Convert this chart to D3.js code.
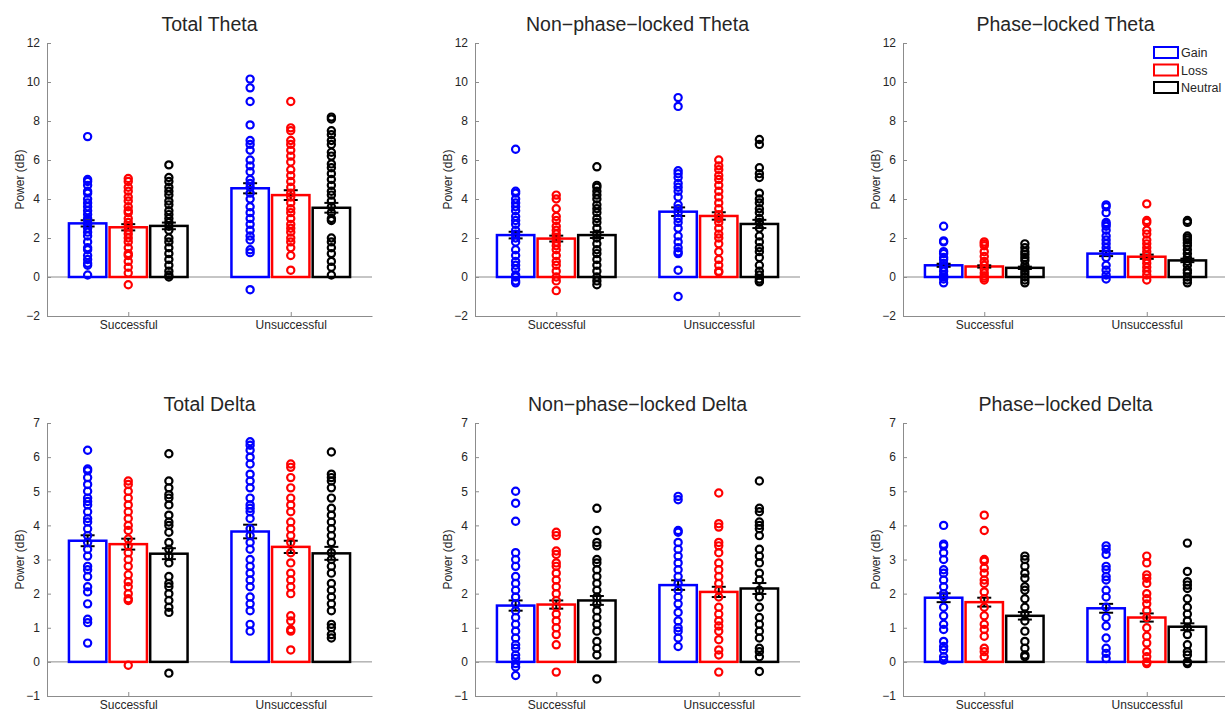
<!DOCTYPE html>
<html>
<head>
<meta charset="utf-8">
<script src="https://cdn.jsdelivr.net/npm/d3@7"></script>
<style>
  html, body { margin: 0; padding: 0; background: #fff; }
  svg { display: block; font-family: "Liberation Sans", Arial, sans-serif; }
</style>
</head>
<body>
<svg id="chart" width="1225" height="712"></svg>
<script>
// ---- categories ----
const groups = ["Successful", "Unsuccessful"];
const conditions = ["Gain", "Loss", "Neutral"];
const conditionColors = ["#0000ff", "#ff0000", "#000000"];

// ---- panel titles and y tick values ----
const panelTitles = [
  "Total Theta", "Non\u2212phase\u2212locked Theta", "Phase\u2212locked Theta",
  "Total Delta", "Non\u2212phase\u2212locked Delta", "Phase\u2212locked Delta"
];
const thetaTicks = [-2, 0, 2, 4, 6, 8, 10, 12];
const deltaTicks = [-1, 0, 1, 2, 3, 4, 5, 6, 7];

// ---- Total Theta ----
const totalThetaMean = [[2.75, 2.55, 2.62], [4.55, 4.2, 3.55]];
const totalThetaSE = [[0.16, 0.16, 0.17], [0.26, 0.25, 0.25]];
const totalThetaSuccessful = [
  [7.2, 5.0, 4.9, 4.7, 4.4, 4.3, 4.0, 3.8, 3.6, 3.4, 3.2, 3.0, 2.9, 2.7, 2.5, 2.3, 2.1, 1.8, 1.5, 1.4, 1.1, 0.9, 0.7, 0.6, 0.1],
  [5.05, 4.9, 4.6, 4.4, 4.1, 3.9, 3.6, 3.4, 3.3, 3.0, 2.8, 2.6, 2.4, 2.2, 2.0, 1.8, 1.5, 1.2, 1.1, 0.8, 0.5, 0.2, -0.4],
  [5.75, 5.1, 4.9, 4.6, 4.4, 4.2, 3.9, 3.7, 3.4, 3.2, 3.0, 2.8, 2.6, 2.4, 2.0, 1.8, 1.5, 1.2, 0.9, 0.6, 0.3, 0.1, 0.0]
];
const totalThetaUnsuccessful = [
  [10.15, 9.7, 9.0, 7.8, 7.0, 6.8, 6.5, 6.0, 5.7, 5.4, 5.0, 4.8, 4.6, 4.3, 4.0, 3.6, 3.3, 3.0, 2.7, 2.4, 2.1, 1.9, 1.4, 1.25, -0.65],
  [9.0, 7.65, 7.5, 7.0, 6.8, 6.5, 6.2, 5.9, 5.5, 5.2, 4.9, 4.6, 4.3, 4.1, 3.8, 3.5, 3.3, 3.0, 2.7, 2.5, 2.3, 2.0, 1.8, 1.5, 1.1, 0.35],
  [8.2, 8.1, 7.5, 7.3, 7.0, 6.8, 6.4, 6.2, 5.8, 5.6, 5.3, 5.0, 4.7, 4.4, 4.2, 3.9, 3.6, 3.3, 3.0, 2.9, 2.0, 1.8, 1.5, 1.2, 0.8, 0.5, 0.1]
];

// ---- Non-phase-locked Theta ----
const npThetaMean = [[2.15, 1.97, 2.15], [3.35, 3.13, 2.72]];
const npThetaSE = [[0.17, 0.15, 0.15], [0.22, 0.19, 0.21]];
const npThetaSuccessful = [
  [6.55, 4.4, 4.3, 4.0, 3.8, 3.6, 3.4, 3.1, 2.9, 2.7, 2.4, 2.2, 2.0, 1.8, 1.4, 1.1, 0.8, 0.6, 0.4, 0.1, 0.0, -0.2, -0.3],
  [4.2, 4.0, 3.5, 3.1, 2.9, 2.6, 2.4, 2.2, 2.0, 1.8, 1.6, 1.4, 1.1, 0.8, 0.6, 0.3, 0.0, -0.2, -0.7],
  [5.65, 4.7, 4.6, 4.4, 4.2, 4.0, 3.7, 3.5, 3.3, 3.0, 2.8, 2.5, 2.2, 2.0, 1.7, 1.4, 1.2, 0.9, 0.6, 0.3, 0.0, -0.2, -0.4]
];
const npThetaUnsuccessful = [
  [9.2, 8.75, 5.45, 5.3, 5.1, 4.8, 4.6, 4.4, 4.1, 3.7, 3.5, 3.3, 3.0, 2.8, 2.5, 2.1, 1.8, 1.5, 1.3, 1.2, 0.35, -1.0],
  [6.0, 5.7, 5.5, 5.2, 5.0, 4.7, 4.4, 4.1, 3.8, 3.5, 3.2, 3.0, 2.8, 2.5, 2.2, 2.0, 1.7, 1.3, 0.9, 0.6, 0.3, 0.25],
  [7.05, 6.8, 5.6, 5.3, 5.1, 4.3, 4.0, 3.8, 3.5, 3.3, 3.0, 2.8, 2.5, 2.1, 1.8, 1.5, 1.3, 1.0, 0.6, 0.3, 0.1, -0.1, -0.2, -0.25]
];

// ---- Phase-locked Theta ----
const plThetaMean = [[0.6, 0.54, 0.47], [1.2, 1.04, 0.85]];
const plThetaSE = [[0.08, 0.06, 0.06], [0.13, 0.11, 0.09]];
const plThetaSuccessful = [
  [2.6, 1.85, 1.8, 1.3, 1.2, 1.0, 0.9, 0.7, 0.5, 0.3, 0.1, 0.0, -0.1, -0.3],
  [1.8, 1.7, 1.6, 1.3, 1.05, 0.8, 0.6, 0.4, 0.2, 0.05, -0.05, -0.15],
  [1.7, 1.5, 1.3, 1.15, 1.0, 0.85, 0.6, 0.45, 0.3, 0.15, 0.0, -0.15, -0.3]
];
const plThetaUnsuccessful = [
  [3.7, 3.6, 3.3, 2.8, 2.7, 2.6, 2.4, 2.1, 1.9, 1.7, 1.5, 1.3, 1.0, 0.6, 0.35, 0.1, -0.1],
  [3.75, 2.9, 2.8, 2.4, 2.2, 1.9, 1.7, 1.5, 1.3, 1.1, 0.9, 0.7, 0.5, 0.3, 0.1, -0.15],
  [2.9, 2.8, 2.1, 2.0, 1.9, 1.75, 1.6, 1.4, 1.2, 1.0, 0.8, 0.6, 0.35, 0.2, 0.0, -0.15, -0.3]
];

// ---- Total Delta ----
const totalDeltaMean = [[3.55, 3.45, 3.17], [3.82, 3.37, 3.18]];
const totalDeltaSE = [[0.16, 0.16, 0.16], [0.2, 0.18, 0.19]];
const totalDeltaSuccessful = [
  [6.2, 5.65, 5.6, 5.4, 5.2, 5.0, 4.8, 4.7, 4.6, 4.4, 4.2, 4.1, 3.9, 3.7, 3.5, 3.3, 3.1, 2.8, 2.7, 2.5, 2.2, 2.05, 1.7, 1.25, 1.15, 0.55],
  [5.3, 5.2, 5.0, 4.8, 4.6, 4.4, 4.2, 4.0, 3.85, 3.6, 3.4, 3.2, 3.0, 2.8, 2.55, 2.35, 2.2, 2.0, 1.85, 1.8, -0.1],
  [6.1, 5.3, 5.1, 4.9, 4.8, 4.6, 4.3, 4.1, 4.0, 3.8, 3.5, 3.3, 3.1, 2.9, 2.5, 2.3, 2.2, 2.0, 1.8, 1.6, 1.45, -0.33]
];
const totalDeltaUnsuccessful = [
  [6.45, 6.35, 6.2, 6.0, 5.8, 5.5, 5.3, 5.1, 4.8, 4.6, 4.5, 4.4, 4.2, 3.9, 3.7, 3.5, 3.3, 3.0, 2.8, 2.6, 2.4, 2.2, 1.9, 1.7, 1.5, 1.1, 0.9],
  [5.8, 5.7, 5.4, 5.1, 4.8, 4.6, 4.4, 4.1, 3.9, 3.7, 3.5, 3.2, 2.9, 2.6, 2.4, 2.2, 2.0, 1.35, 1.2, 0.95, 0.9, 0.35],
  [6.15, 5.5, 5.4, 5.3, 5.1, 4.8, 4.5, 4.3, 4.1, 3.9, 3.7, 3.5, 3.2, 3.0, 2.8, 2.6, 2.3, 2.1, 1.9, 1.7, 1.5, 1.1, 1.0, 0.8, 0.7]
];

// ---- Non-phase-locked Delta ----
const npDeltaMean = [[1.65, 1.68, 1.8], [2.25, 2.05, 2.15]];
const npDeltaSE = [[0.15, 0.12, 0.13], [0.14, 0.15, 0.16]];
const npDeltaSuccessful = [
  [5.0, 4.65, 4.12, 3.2, 3.0, 2.8, 2.5, 2.3, 2.1, 1.9, 1.7, 1.5, 1.3, 1.1, 0.9, 0.7, 0.5, 0.4, 0.2, 0.1, -0.05, -0.15, -0.4],
  [3.8, 3.7, 3.25, 3.15, 2.9, 2.8, 2.6, 2.4, 2.2, 2.0, 1.8, 1.6, 1.4, 1.2, 1.0, 0.8, 0.5, -0.3],
  [4.5, 3.85, 3.5, 3.4, 3.0, 2.9, 2.7, 2.5, 2.3, 2.1, 1.9, 1.7, 1.5, 1.3, 1.1, 0.9, 0.6, 0.4, 0.2, -0.5]
];
const npDeltaUnsuccessful = [
  [4.85, 4.75, 3.85, 3.8, 3.5, 3.3, 3.1, 2.9, 2.7, 2.5, 2.3, 2.1, 1.9, 1.7, 1.45, 1.2, 1.0, 0.9, 0.7, 0.45],
  [4.95, 4.05, 3.95, 3.5, 3.4, 3.2, 2.9, 2.7, 2.5, 2.3, 2.1, 1.9, 1.6, 1.4, 1.2, 1.05, 0.9, 0.65, 0.35, 0.2, -0.3],
  [5.3, 4.5, 4.4, 4.1, 4.0, 3.9, 3.7, 3.3, 3.1, 2.9, 2.6, 2.4, 2.1, 1.9, 1.6, 1.3, 1.1, 0.9, 0.7, 0.4, 0.3, 0.15, -0.28]
];

// ---- Phase-locked Delta ----
const plDeltaMean = [[1.88, 1.75, 1.35], [1.57, 1.3, 1.03]];
const plDeltaSE = [[0.13, 0.13, 0.11], [0.13, 0.12, 0.1]];
const plDeltaSuccessful = [
  [4.0, 3.45, 3.4, 3.2, 3.0, 2.7, 2.6, 2.4, 2.2, 2.0, 1.9, 1.6, 1.35, 1.1, 0.95, 0.6, 0.45, 0.35, 0.15, 0.05],
  [4.3, 3.85, 3.0, 2.95, 2.75, 2.6, 2.4, 2.3, 2.05, 1.85, 1.6, 1.35, 1.1, 0.95, 0.75, 0.4, 0.3, 0.15],
  [3.1, 3.0, 2.8, 2.6, 2.45, 2.2, 2.1, 1.85, 1.6, 1.4, 1.2, 0.9, 0.6, 0.4, 0.2, 0.15]
];
const plDeltaUnsuccessful = [
  [3.4, 3.3, 3.15, 2.8, 2.7, 2.5, 2.4, 2.1, 1.9, 1.6, 1.3, 1.05, 0.7, 0.4, 0.25, 0.1],
  [3.1, 2.9, 2.55, 2.45, 2.3, 2.0, 1.85, 1.7, 1.5, 1.3, 1.0, 0.75, 0.55, 0.3, 0.15, 0.0, -0.05],
  [3.48, 2.65, 2.35, 2.25, 2.15, 1.85, 1.6, 1.4, 1.2, 1.0, 0.8, 0.5, 0.3, 0.2, 0.0, -0.05]
];

// ---- layout ----
const svg = d3.select("#chart");
const axisGray = "#8c8c8c";
const textColor = "#262626";
const columnsX = [[47, 372], [475, 800], [903, 1228]];
const rowsY = [[43, 316], [423, 696]];

const panels = [
  { mean: totalThetaMean, se: totalThetaSE, pts: [totalThetaSuccessful, totalThetaUnsuccessful], ticks: thetaTicks },
  { mean: npThetaMean, se: npThetaSE, pts: [npThetaSuccessful, npThetaUnsuccessful], ticks: thetaTicks },
  { mean: plThetaMean, se: plThetaSE, pts: [plThetaSuccessful, plThetaUnsuccessful], ticks: thetaTicks },
  { mean: totalDeltaMean, se: totalDeltaSE, pts: [totalDeltaSuccessful, totalDeltaUnsuccessful], ticks: deltaTicks },
  { mean: npDeltaMean, se: npDeltaSE, pts: [npDeltaSuccessful, npDeltaUnsuccessful], ticks: deltaTicks },
  { mean: plDeltaMean, se: plDeltaSE, pts: [plDeltaSuccessful, plDeltaUnsuccessful], ticks: deltaTicks }
];

const barOffsets = [-0.25, 0, 0.25];
const barWidth = 0.23;
const capHalf = 7;

panels.forEach((p, i) => {
  const [x0, x1] = columnsX[i % 3];
  const [yTop, yBot] = rowsY[Math.floor(i / 3)];
  const g = svg.append("g");

  const x = d3.scaleLinear().domain([0.5, 2.5]).range([x0, x1]);
  const y = d3.scaleLinear().domain(d3.extent(p.ticks)).range([yBot, yTop]);

  // title
  g.append("text")
    .attr("x", (x0 + x1) / 2).attr("y", yTop - 12)
    .attr("text-anchor", "middle")
    .attr("font-size", 19.5).attr("fill", textColor)
    .text(panelTitles[i]);

  // y axis
  const yAxis = d3.axisLeft(y).tickValues(p.ticks).tickSizeInner(-4).tickSizeOuter(0).tickPadding(7);
  const ya = g.append("g").attr("transform", `translate(${x0},0)`).call(yAxis);
  ya.select(".domain").attr("stroke", axisGray);
  ya.selectAll(".tick line").attr("stroke", axisGray);
  ya.selectAll(".tick text").attr("fill", textColor).attr("font-size", 12)
    .attr("font-family", "Liberation Sans, Arial, sans-serif");

  // x axis (bottom)
  const xAxis = d3.axisBottom(x).tickValues([1, 2]).tickFormat((d) => groups[d - 1])
    .tickSizeInner(-4).tickSizeOuter(0).tickPadding(4.5);
  const xa = g.append("g").attr("transform", `translate(0,${yBot})`).call(xAxis);
  xa.select(".domain").attr("stroke", axisGray);
  xa.selectAll(".tick line").attr("stroke", axisGray);
  xa.selectAll(".tick text").attr("fill", textColor).attr("font-size", 12)
    .attr("font-family", "Liberation Sans, Arial, sans-serif");

  // y label
  g.append("text")
    .attr("transform", `translate(${x0 - 23},${(yTop + yBot) / 2}) rotate(-90)`)
    .attr("text-anchor", "middle")
    .attr("font-size", 12).attr("fill", textColor)
    .text("Power (dB)");

  // zero baseline
  g.append("line")
    .attr("x1", x0).attr("x2", x1)
    .attr("y1", y(0)).attr("y2", y(0))
    .attr("stroke", axisGray).attr("stroke-width", 1);

  groups.forEach((grp, gi) => {
    conditions.forEach((cond, ci) => {
      const cx = gi + 1 + barOffsets[ci];
      const m = p.mean[gi][ci];
      const se = p.se[gi][ci];
      const col = conditionColors[ci];

      // bar
      g.append("rect")
        .attr("x", x(cx - barWidth / 2))
        .attr("y", y(Math.max(0, m)))
        .attr("width", x(cx + barWidth / 2) - x(cx - barWidth / 2))
        .attr("height", Math.abs(y(m) - y(0)))
        .attr("fill", "none").attr("stroke", col).attr("stroke-width", 2.5);

      // error bar
      const eb = g.append("g").attr("stroke", "#000").attr("stroke-width", 2);
      eb.append("line").attr("x1", x(cx)).attr("x2", x(cx)).attr("y1", y(m - se)).attr("y2", y(m + se));
      [m - se, m + se].forEach((v) => {
        eb.append("line").attr("x1", x(cx) - capHalf).attr("x2", x(cx) + capHalf)
          .attr("y1", y(v)).attr("y2", y(v));
      });

      // individual data points
      g.append("g").selectAll("circle")
        .data(p.pts[gi][ci])
        .join("circle")
        .attr("cx", x(cx)).attr("cy", (d) => y(d))
        .attr("r", 3.6)
        .attr("fill", "none").attr("stroke", col).attr("stroke-width", 2.2);
    });
  });

  // legend in the phase-locked theta panel
  if (i === 2) {
    const lg = g.append("g");
    conditions.forEach((c, ci) => {
      const ly = yTop + 9.5 + ci * 17.5;
      lg.append("rect")
        .attr("x", x1 - 74).attr("y", ly - 5.5)
        .attr("width", 24).attr("height", 11)
        .attr("fill", "none").attr("stroke", conditionColors[ci]).attr("stroke-width", 2);
      lg.append("text")
        .attr("x", x1 - 47).attr("y", ly + 4.5)
        .attr("font-size", 12.5).attr("fill", textColor)
        .text(c);
    });
  }
});
</script>
</body>
</html>
